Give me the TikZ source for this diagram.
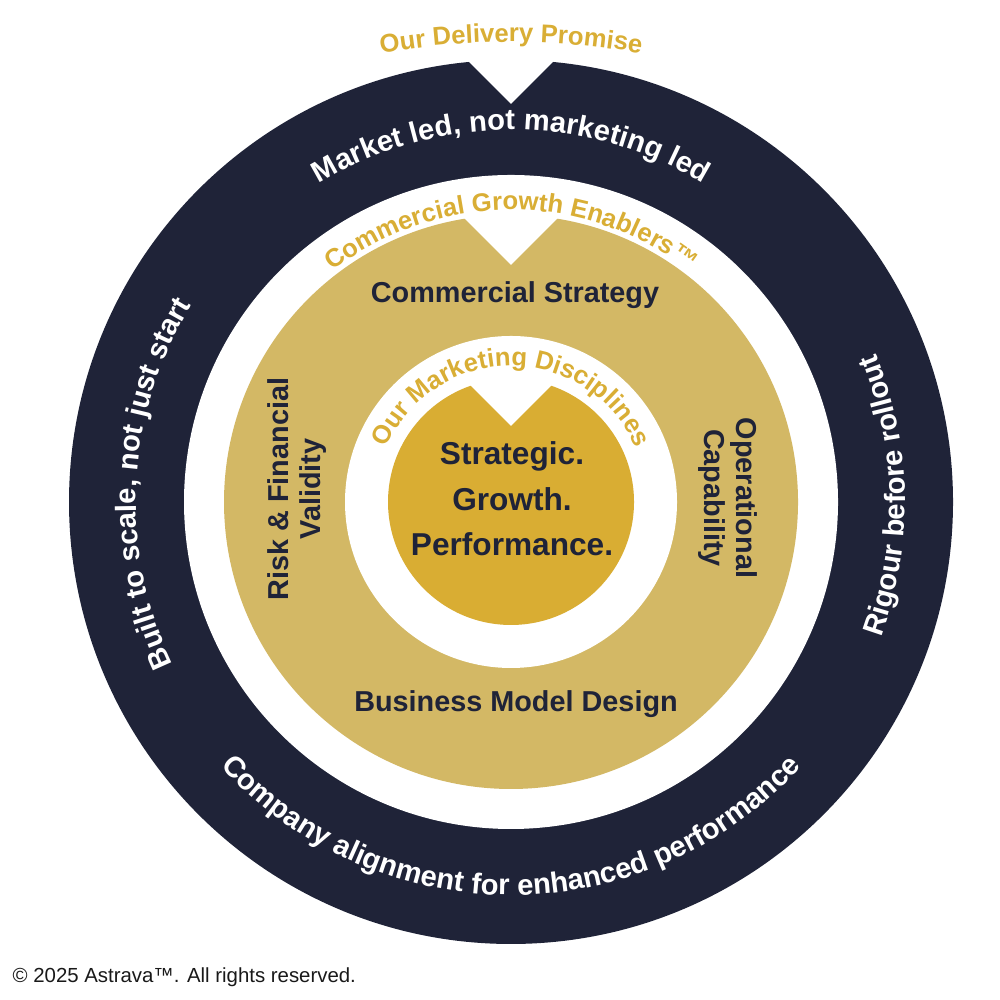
\documentclass[tikz,border=0pt]{standalone}
\usepackage{fontspec}
\setmainfont{Liberation Sans}
\usetikzlibrary{decorations.text}
\definecolor{navy}{HTML}{1F2338}
\definecolor{goldring}{HTML}{D3B865}
\definecolor{golddisc}{HTML}{D9AD33}
\definecolor{goldtxt}{HTML}{D9AE35}
\newcommand{\fntRing}{\bfseries\fontsize{8.3pt}{10pt}\selectfont}
\newcommand{\fntGold}{\bfseries\fontsize{7.3pt}{9pt}\selectfont}
\newcommand{\fntLbl}{\bfseries\fontsize{8.2pt}{9.2pt}\selectfont}
\newcommand{\fntCore}{\bfseries\fontsize{9pt}{13pt}\selectfont}
\begin{document}
\begin{tikzpicture}[
ringtxt/.style={decorate,decoration={text along path,text align=center,text color=white,text={|\fntRing|#1}}},
goldtxt/.style={decorate,decoration={text along path,text align=center,text color=goldtxt,text={|\fntGold|#1}}},
lbl0/.style={font=\fntLbl,text=navy,align=center,inner sep=0pt},
core/.style={font=\fntCore,text=navy,align=center,inner sep=0pt},
notch/.style={fill=white}
]
\useasboundingbox (0,0) rectangle (10,10);

% Ringe
\coordinate (C) at (5.11,4.98);
\fill[navy] (C) circle (4.42);
\fill[white] (C) circle (3.27);
\fill[goldring] (C) circle (2.87);
\fill[white] (C) circle (1.66);
\fill[golddisc] (C) circle (1.23);

% Kerben
\fill[notch] (C) ++(0,3.98) -- ++(-0.65,0.65) -- ++(1.3,0) -- cycle;
\fill[notch] (C) ++(0,2.37) -- ++(-0.55,0.55) -- ++(1.1,0) -- cycle;
\fill[notch] (C) ++(0,0.76) -- ++(-0.5,0.5) -- ++(1.0,0) -- cycle;

% Texte auf den Ringen
\path[goldtxt={Our Delivery Promise}] (5.11,2.18) ++(110:7.40) arc[start angle=110,end angle=70,radius=7.40];
\path[ringtxt={Market led, not marketing led}] (C) ++(150:3.72) arc[start angle=150,end angle=30,radius=3.72];
\path[ringtxt={Built to scale, not just start}] (C) ++(222:3.75) arc[start angle=222,end angle=132,radius=3.75];
\path[ringtxt={Rigour before rollout}] (C) ++(-35:3.94) arc[start angle=-35,end angle=37,radius=3.94];
\path[ringtxt={Company alignment for enhanced performance}] (C) ++(195:3.93) arc[start angle=195,end angle=345,radius=3.93];
\path[goldtxt={Commercial Growth Enablers™}] (C) ++(150:2.92) arc[start angle=150,end angle=30,radius=2.92];
\path[goldtxt={Our Marketing Disciplines}] (C) ++(178:1.36) arc[start angle=178,end angle=2,radius=1.36];

% Beschriftungen
\node[lbl0] (strategy) at (5.15,7.05) {Commercial Strategy};
\node[lbl0] (bizmodel) at (5.16,2.96) {Business Model Design};
\node[lbl0,rotate=90] (risk) at (2.97,5.11) {Risk \& Financial\\Validity};
\node[lbl0,rotate=-90] (ops) at (7.28,5.02) {Operational\\Capability};
\node[core] (centre) at (5.12,5.01) {Strategic.\\Growth.\\Performance.};

\node[anchor=base west,inner sep=0pt,text=black!90,font=\fontsize{5.8pt}{7pt}\selectfont] (copyright) at (0.12,0.17) {© 2025 Astrava™. All rights reserved.};
\end{tikzpicture}
\end{document}
